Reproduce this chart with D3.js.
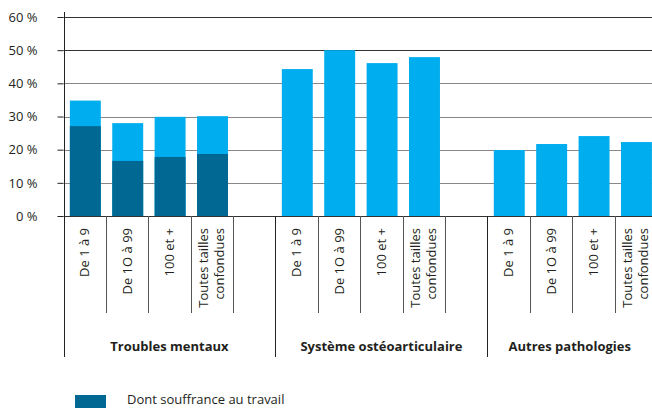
<!DOCTYPE html>
<html>
<head>
<meta charset="utf-8">
<script src="https://cdn.jsdelivr.net/npm/d3@7"></script>
<style>
  body { margin: 0; background: #fff; }
  text { font-family: "Open Sans", sans-serif; fill: #231f20; }
</style>
</head>
<body>
<div id="wrapper"></div>
<script>
// 1. Data

const groups = ["Troubles mentaux", "Système ostéoarticulaire", "Autres pathologies"];
const sizes = ["De 1 à 9", "De 1O à 99", "100 et +", "Toutes tailles|confondues"];
const totalValues = [
  [34.8, 28.0, 29.9, 30.1],
  [44.3, 50.0, 46.1, 47.9],
  [19.9, 21.7, 24.1, 22.3],
];
const souffranceValues = [27.1, 16.6, 17.8, 18.7];
const yTicks = [0, 10, 20, 30, 40, 50, 60];
const legendLabel = "Dont souffrance au travail";

const dark = "#006892";
const light = "#00adee";

// 2. Dimensions

const dimensions = {
  width: 652,
  height: 408,
  axisX: 63.5,
  plotRight: 657,
  top: 17,
  zero: 216,
  sepBottom: 313,
  groupBottom: 357,
};

// 3. Canvas

const svg = d3
  .select("#wrapper")
  .append("svg")
  .attr("width", dimensions.width)
  .attr("height", dimensions.height);

// 4. Scales

const slotIds = d3.range(groups.length * 5 - 1);
const xScale = d3
  .scaleBand()
  .domain(slotIds)
  .range([dimensions.axisX, dimensions.plotRight]);

const yScale = d3
  .scaleLinear()
  .domain([0, 60])
  .range([dimensions.zero, dimensions.top]);

// 5. Gridlines + y axis

const yAxis = svg
  .append("g")
  .attr("transform", `translate(${dimensions.axisX},0)`)
  .call(
    d3
      .axisLeft(yScale)
      .tickValues(yTicks)
      .tickSize(6)
      .tickPadding(20)
      .tickFormat((d) => d + " %")
  );
yAxis.select(".domain").remove();
yAxis.selectAll(".tick line").attr("stroke", "#222");
yAxis
  .selectAll(".tick text")
  .attr("font-size", 13)
  .attr("fill", "#231f20")
  .style("font-family", "'Open Sans', sans-serif");

svg
  .append("g")
  .selectAll("line")
  .data(yTicks)
  .join("line")
  .attr("x1", dimensions.axisX)
  .attr("x2", dimensions.width)
  .attr("y1", (d) => Math.round(yScale(d)) + 0.5)
  .attr("y2", (d) => Math.round(yScale(d)) + 0.5)
  .attr("stroke", (d) => (d >= 50 || d === 0 ? "#333" : "#888"))
  .attr("stroke-width", 1);

// 6. Bars

const barData = [];
totalValues.forEach((vals, g) => {
  vals.forEach((v, i) => {
    barData.push({
      slot: g * 5 + i,
      total: v,
      souffrance: g === 0 ? souffranceValues[i] : null,
    });
  });
});

const bw = xScale.bandwidth();
const barX = (d) => xScale(d.slot) + bw * 0.15;
const barW = bw * 0.73;

svg
  .append("g")
  .selectAll("rect")
  .data(barData)
  .join("rect")
  .attr("x", barX)
  .attr("width", barW)
  .attr("y", (d) => yScale(d.total))
  .attr("height", (d) => yScale(0) - yScale(d.total))
  .attr("fill", light);

svg
  .append("g")
  .selectAll("rect")
  .data(barData.filter((d) => d.souffrance != null))
  .join("rect")
  .attr("x", barX)
  .attr("width", barW)
  .attr("y", (d) => yScale(d.souffrance))
  .attr("height", (d) => yScale(0) - yScale(d.souffrance))
  .attr("fill", dark);

// 7. Category separators and labels

const sepSlots = slotIds.filter((i) => i % 5 !== 0).concat([14]);
svg
  .append("g")
  .selectAll("line")
  .data(sepSlots)
  .join("line")
  .attr("x1", (d) => Math.round(xScale(d) || dimensions.plotRight) + 0.5)
  .attr("x2", (d) => Math.round(xScale(d) || dimensions.plotRight) + 0.5)
  .attr("y1", dimensions.zero)
  .attr("y2", dimensions.sepBottom)
  .attr("stroke", "#555");

const groupStarts = [0, 5, 10];
svg
  .append("g")
  .selectAll("line")
  .data(groupStarts)
  .join("line")
  .attr("x1", (d) => Math.round(xScale(d)) + 0.5)
  .attr("x2", (d) => Math.round(xScale(d)) + 0.5)
  .attr("y1", (d) => (d === 0 ? 12 : dimensions.zero))
  .attr("y2", dimensions.groupBottom)
  .attr("stroke", "#222");

const sizeLabels = svg
  .append("g")
  .selectAll("text")
  .data(barData)
  .join("text")
  .attr(
    "transform",
    (d) => `translate(${xScale(d.slot) + bw / 2},228) rotate(-90)`
  )
  .attr("text-anchor", "end")
  .attr("font-size", 13);

sizeLabels.each(function (d) {
  const lines = sizes[d.slot % 5].split("|");
  const t = d3.select(this);
  lines.forEach((line, k) => {
    const offset = (k - (lines.length - 1) / 2) * 16;
    t.append("tspan")
      .attr("x", 0)
      .attr("y", offset)
      .attr("dy", "0.35em")
      .text(line);
  });
});

svg
  .append("g")
  .selectAll("text")
  .data(groups)
  .join("text")
  .attr("x", (d, g) => {
    const start = xScale(g * 5);
    const end = Math.min(g < 2 ? xScale(g * 5 + 5) : dimensions.plotRight, dimensions.width);
    return (start + end) / 2;
  })
  .attr("y", 351)
  .attr("text-anchor", "middle")
  .attr("font-size", 13)
  .attr("font-weight", "bold")
  .text((d) => d);

// 8. Legend

const legend = svg.append("g");
legend
  .append("rect")
  .attr("x", 75)
  .attr("y", 395)
  .attr("width", 31)
  .attr("height", 13)
  .attr("fill", dark);
legend
  .append("text")
  .attr("x", 127)
  .attr("y", 404)
  .attr("font-size", 13)
  .text(legendLabel);
</script>
</body>
</html>
